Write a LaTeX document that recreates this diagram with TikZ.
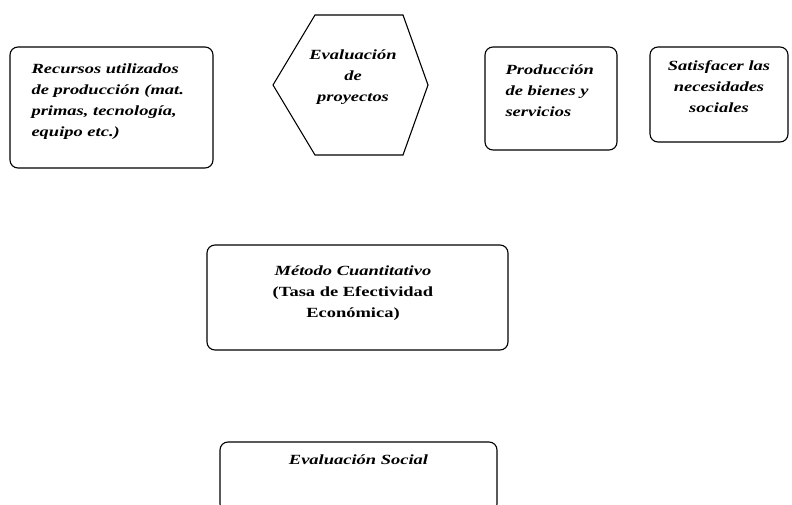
\documentclass[tikz,border=0pt]{standalone}
\usepackage{fontspec}
\setmainfont[FakeStretch=1.32]{Liberation Serif}
\usetikzlibrary{positioning}

\tikzset{
  caja/.style={draw, line width=1.1pt, rounded corners=8pt, inner sep=0pt},
  texto/.style={font=\fontsize{14}{21}\selectfont\bfseries\itshape},
}

\begin{document}
\begin{tikzpicture}[x=1pt,y=1pt]

    % Fix the frame to the page size
    \useasboundingbox (0,0) rectangle (792,504);

    % Top row of boxes
    \node[caja, minimum width=203, minimum height=121] (recursos) at (111.5,396.5) {};
    \node[caja, minimum width=132, minimum height=103] (produccion) at (551,405.5) {};
    \node[caja, minimum width=138, minimum height=95] (satisfacer) at (719,409.5) {};

    % Define the coordinates for the hexagon
    \coordinate (H1) at (273,419);   % Left vertex
    \coordinate (H2) at (315,489);   % Top left vertex
    \coordinate (H3) at (403,489);   % Top right vertex
    \coordinate (H4) at (428,419);   % Right vertex
    \coordinate (H5) at (403,349);   % Bottom right vertex
    \coordinate (H6) at (315,349);   % Bottom left vertex

    % Draw the hexagon
    \draw[line width=1.1pt] (H1) -- (H2) -- (H3) -- (H4) -- (H5) -- (H6) -- cycle;

    % Lower boxes
    \node[caja, minimum width=301, minimum height=105] (metodo) at (357.5,206.5) {};
    \node[caja, minimum width=277, minimum height=70] (social) at (358.5,27) {};

    % Texts of the top row
    \node[texto, align=left, anchor=north west] (recursostexto) at (28,444)
        {Recursos utilizados\\de producción (mat.\\primas, tecnología,\\equipo etc.)};
    \node[texto, align=center] (evaluacion) at (353,427) {Evaluación\\de\\proyectos};
    \node[texto, align=left, anchor=north west] (producciontexto) at (502,443)
        {Producción\\de bienes y\\servicios};
    \node[texto, align=center, anchor=north] (satisfacertexto) at (719,447)
        {Satisfacer las\\necesidades\\sociales};

    % Texts of the lower boxes
    \node[texto, align=center] (metodotexto) at (353,211)
        {Método Cuantitativo\\{\upshape(Tasa de Efectividad}\\{\upshape Económica)}};
    \node[texto, anchor=north] (socialtexto) at (social.north) [yshift=-10] {Evaluación Social};

\end{tikzpicture}
\end{document}
